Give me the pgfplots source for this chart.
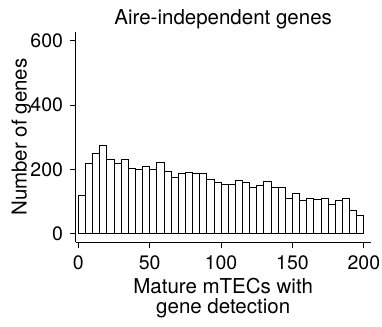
\documentclass[border=0pt]{standalone}
\usepackage{pgfplots}
\pgfplotsset{compat=1.18}
\usepackage{fontspec}
\setmainfont{TeX Gyre Heros}

\begin{document}
\begin{tikzpicture}[x=1pt,y=1pt]
\path[use as bounding box] (0,0) rectangle (382,326);
\begin{axis}[
  at={(75.7pt,83.7pt)}, anchor=south west,
  scale only axis, width=295pt, height=210.3pt,
  xmin=-1.8, xmax=204.8, ymin=-27, ymax=627,
  axis x line=bottom, axis y line=left,
  axis line style={-, line width=0.8pt, black},
  tick align=outside, major tick length=6pt,
  tick style={line width=0.8pt, black},
  xtick={0,50,100,150,200}, ytick={0,200,400,600},
  minor tick num=0,
  /pgf/number format/assume math mode=true,
  ticklabel style={font=\fontsize{19.5}{23}\selectfont},
  xticklabel style={anchor=north, inner sep=0pt, yshift=-7pt},
  yticklabel style={anchor=east, inner sep=0pt, xshift=-6.5pt},
  title={Aire-independent genes},
  every axis title/.style={at={(axis description cs:0.5,1)}, anchor=base,
    yshift=7pt, inner sep=0pt, font=\fontsize{20.5}{24}\selectfont},
  xlabel={Mature mTECs with\\gene detection},
  xlabel style={at={([yshift=-71pt]axis description cs:0.5,0)}, anchor=base,
    inner sep=0pt, align=center, font=\fontsize{20.5}{20}\selectfont},
  ylabel={Number of genes},
  ylabel style={at={([xshift=-49pt]axis description cs:0,0.5)}, anchor=base,
    inner sep=0pt, font=\fontsize{20.5}{24}\selectfont},
  clip=false,
]
% histogram: left bin edge, gene count (bins of width 5)
\addplot[ybar interval, fill=white, draw=black, line width=0.8pt] coordinates {
  (0,118) (5,219) (10,248) (15,275) (20,231) (25,217) (30,231) (35,204)
  (40,199) (45,208) (50,199) (55,220) (60,195) (65,176) (70,186) (75,191)
  (80,186) (85,188) (90,169) (95,158) (100,153) (105,154) (110,167) (115,158)
  (120,143) (125,151) (130,161) (135,143) (140,144) (145,111) (150,125) (155,104)
  (160,108) (165,106) (170,111) (175,92) (180,102) (185,108) (190,72) (195,58)
  (200,58)
};
\end{axis}
\end{tikzpicture}
\end{document}
